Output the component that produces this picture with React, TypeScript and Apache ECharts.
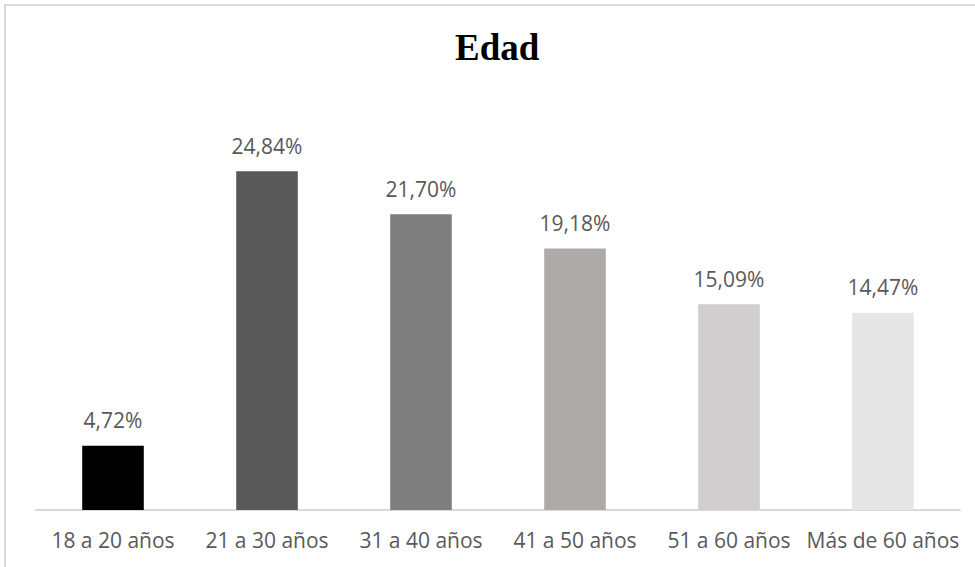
import React, { useEffect, useRef } from "react";
import * as echarts from "echarts";

const categories = ["18 a 20 años", "21 a 30 años", "31 a 40 años", "41 a 50 años", "51 a 60 años", "Más de 60 años"];
const values = [4.72, 24.84, 21.7, 19.18, 15.09, 14.47];
const barColors = ["#000000", "#595959", "#7f7f7f", "#aeaaaa", "#d0cece", "#e7e6e6"];
const title = "Edad";

export default function App() {
  const ref = useRef<HTMLDivElement>(null);
  useEffect(() => {
    if (!ref.current) return;
    const chart = echarts.init(ref.current, null, { renderer: "svg" });
    chart.setOption({
      animation: false,
      backgroundColor: "#ffffff",
      title: {
        text: title,
        left: 450,
        top: 24,
        textStyle: { fontFamily: "Liberation Serif", fontWeight: "bold", fontSize: 37, color: "#000000" },
      },
      graphic: [
        {
          type: "rect",
          shape: { x: 5, y: 5, width: 1000, height: 600 },
          style: { fill: "none", stroke: "#d9d9d9", lineWidth: 2 },
          silent: true,
        },
      ],
      grid: { left: 36, right: 15, top: 101, bottom: 57 },
      xAxis: {
        type: "category",
        data: categories,
        axisLine: { show: true, lineStyle: { color: "#d9d9d9", width: 2 } },
        axisTick: { show: false },
        axisLabel: { color: "#595959", fontFamily: "Open Sans", fontSize: 21, margin: 19, interval: 0 },
      },
      yAxis: {
        type: "value",
        min: 0,
        max: 30,
        show: false,
        splitLine: { show: false },
      },
      series: [
        {
          type: "bar",
          barWidth: "40%",
          data: values.map((v, i) => ({ value: v, itemStyle: { color: barColors[i] } })),
          label: {
            show: true,
            position: "top",
            distance: 15,
            color: "#595959",
            fontFamily: "Open Sans",
            fontSize: 21,
            formatter: (p: any) => p.value.toFixed(2).replace(".", ",") + "%",
          },
        },
      ],
    });
    return () => chart.dispose();
  }, []);
  return <div ref={ref} style={{ position: "absolute", left: 0, top: 0, width: 975, height: 567 }} />;
}
